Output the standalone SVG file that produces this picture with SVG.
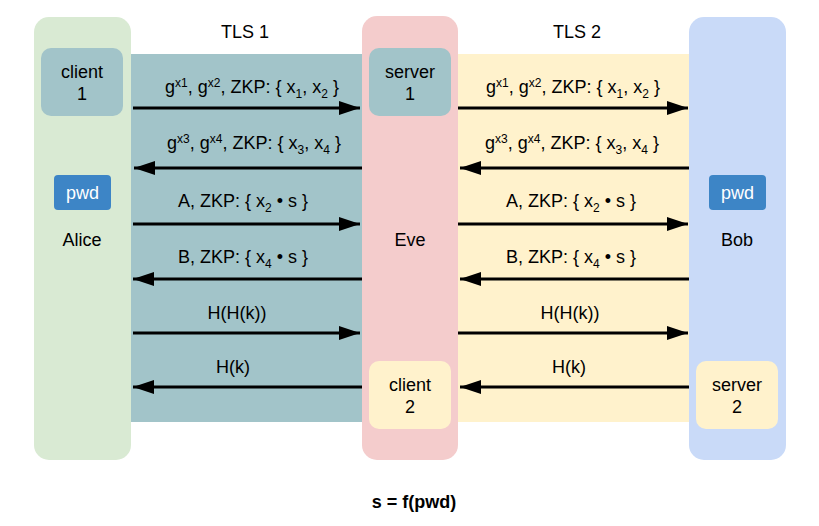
<svg xmlns="http://www.w3.org/2000/svg" width="819" height="526" viewBox="0 0 819 526">
<style>
text{font-family:"Liberation Sans",Arial,sans-serif;fill:#000;}
.lbl{font-size:18px;text-anchor:middle;}
.s{font-size:12px;}
.con line{stroke:#000;stroke-width:3;}
.pwd{font-size:18px;text-anchor:middle;fill:#fff;}
</style>
<defs>
<marker id="ah" markerUnits="userSpaceOnUse" markerWidth="22" markerHeight="16" refX="21" refY="8" orient="auto">
<path d="M0,1 L21,8 L0,15 Z" fill="#000"/>
</marker>
</defs>
<g id="tls1-band"><rect x="131" y="54" width="231" height="368" fill="#a2c4c9"/><text class="lbl" x="245" y="38">TLS 1</text></g>
<g id="tls2-band"><rect x="458" y="54" width="231" height="368" fill="#fff2cc"/><text class="lbl" x="577" y="38">TLS 2</text></g>
<g id="alice">
<rect x="34" y="17" width="97" height="443" rx="15" fill="#d9ead3"/>
<text class="lbl" x="82" y="246">Alice</text>
</g>
<g id="eve">
<rect x="362" y="16" width="96" height="444" rx="15" fill="#f4cccc"/>
<text class="lbl" x="410" y="246">Eve</text>
</g>
<g id="bob">
<rect x="689" y="17" width="97" height="443" rx="15" fill="#c9daf8"/>
<text class="lbl" x="737" y="246">Bob</text>
</g>
<g id="client1"><rect x="41" y="48" width="82" height="68" rx="10" fill="#a2c4c9"/><text class="lbl" x="82" y="78">client</text><text class="lbl" x="82" y="100">1</text></g>
<g id="server1"><rect x="369" y="48" width="82" height="68" rx="10" fill="#a2c4c9"/><text class="lbl" x="410" y="78">server</text><text class="lbl" x="410" y="100">1</text></g>
<g id="client2"><rect x="369" y="361" width="82" height="68" rx="10" fill="#fff2cc"/><text class="lbl" x="410" y="391">client</text><text class="lbl" x="410" y="413">2</text></g>
<g id="server2"><rect x="696" y="361" width="82" height="68" rx="10" fill="#fff2cc"/><text class="lbl" x="737" y="391">server</text><text class="lbl" x="737" y="413">2</text></g>
<g id="pwd-alice"><rect x="54" y="175" width="57" height="35" rx="4" fill="#3d85c6"/><text class="pwd" x="82.5" y="199">pwd</text></g>
<g id="pwd-bob"><rect x="709" y="175" width="57" height="35" rx="4" fill="#3d85c6"/><text class="pwd" x="737.5" y="199">pwd</text></g>
<g class="con" id="connectors">
<line x1="133" y1="108" x2="360" y2="108" marker-end="url(#ah)"/>
<line x1="362" y1="168" x2="134" y2="168" marker-end="url(#ah)"/>
<line x1="133" y1="224" x2="360" y2="224" marker-end="url(#ah)"/>
<line x1="362" y1="279" x2="133" y2="279" marker-end="url(#ah)"/>
<line x1="133" y1="333" x2="360" y2="333" marker-end="url(#ah)"/>
<line x1="362" y1="387" x2="133" y2="387" marker-end="url(#ah)"/>
<line x1="458" y1="108" x2="688" y2="108" marker-end="url(#ah)"/>
<line x1="689" y1="168" x2="460" y2="168" marker-end="url(#ah)"/>
<line x1="458" y1="224" x2="688" y2="224" marker-end="url(#ah)"/>
<line x1="689" y1="279" x2="460" y2="279" marker-end="url(#ah)"/>
<line x1="458" y1="333" x2="688" y2="333" marker-end="url(#ah)"/>
<line x1="689" y1="387" x2="460" y2="387" marker-end="url(#ah)"/>
</g>
<g id="labels">
<text class="lbl" x="252" y="93">g<tspan class="s" dy="-6">x1</tspan><tspan dy="6">, g</tspan><tspan class="s" dy="-6">x2</tspan><tspan dy="6">, ZKP: { x</tspan><tspan class="s" dy="5">1</tspan><tspan dy="-5">, x</tspan><tspan class="s" dy="5">2</tspan><tspan dy="-5"> }</tspan></text>
<text class="lbl" x="254" y="149">g<tspan class="s" dy="-6">x3</tspan><tspan dy="6">, g</tspan><tspan class="s" dy="-6">x4</tspan><tspan dy="6">, ZKP: { x</tspan><tspan class="s" dy="5">3</tspan><tspan dy="-5">, x</tspan><tspan class="s" dy="5">4</tspan><tspan dy="-5"> }</tspan></text>
<text class="lbl" x="243" y="207">A, ZKP: { x<tspan class="s" dy="5">2</tspan><tspan dy="-5"> • s }</tspan></text>
<text class="lbl" x="243" y="263">B, ZKP: { x<tspan class="s" dy="5">4</tspan><tspan dy="-5"> • s }</tspan></text>
<text class="lbl" x="237" y="319">H(H(k))</text>
<text class="lbl" x="233" y="373">H(k)</text>
<text class="lbl" x="573" y="93">g<tspan class="s" dy="-6">x1</tspan><tspan dy="6">, g</tspan><tspan class="s" dy="-6">x2</tspan><tspan dy="6">, ZKP: { x</tspan><tspan class="s" dy="5">1</tspan><tspan dy="-5">, x</tspan><tspan class="s" dy="5">2</tspan><tspan dy="-5"> }</tspan></text>
<text class="lbl" x="572" y="149">g<tspan class="s" dy="-6">x3</tspan><tspan dy="6">, g</tspan><tspan class="s" dy="-6">x4</tspan><tspan dy="6">, ZKP: { x</tspan><tspan class="s" dy="5">3</tspan><tspan dy="-5">, x</tspan><tspan class="s" dy="5">4</tspan><tspan dy="-5"> }</tspan></text>
<text class="lbl" x="571" y="207">A, ZKP: { x<tspan class="s" dy="5">2</tspan><tspan dy="-5"> • s }</tspan></text>
<text class="lbl" x="571" y="263">B, ZKP: { x<tspan class="s" dy="5">4</tspan><tspan dy="-5"> • s }</tspan></text>
<text class="lbl" x="570" y="319">H(H(k))</text>
<text class="lbl" x="569" y="373">H(k)</text>
<text class="lbl" x="414" y="508" style="font-weight:bold">s = f(pwd)</text>
</g>
</svg>
